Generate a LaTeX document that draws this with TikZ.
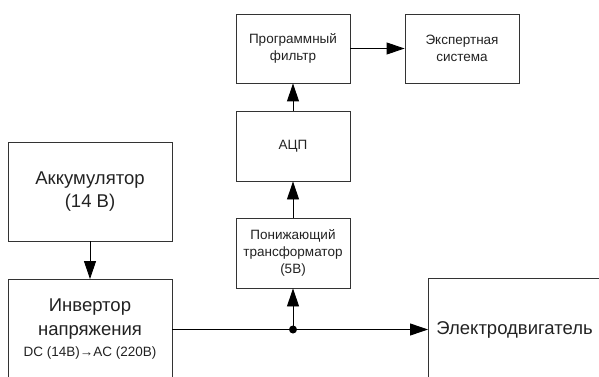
\documentclass[tikz,border=0pt]{standalone}
\usepackage{fontspec}
\setmainfont{Liberation Sans}
\usetikzlibrary{arrows.meta}
\definecolor{ink}{HTML}{222222}
\definecolor{edge}{HTML}{333333}
\tikzset{
  blk/.style={draw=edge, line width=0.9pt, rectangle, inner sep=0pt, align=center, text=ink},
  small/.style={font=\fontsize{13.5}{17}\selectfont},
  big/.style={font=\fontsize{18.5}{23.5}\selectfont},
  conn/.style={draw=black, line width=0.9pt, -{Triangle[length=18pt,width=12pt]}},
  wire/.style={draw=black, line width=0.9pt}
}
\begin{document}
\begin{tikzpicture}[x=1pt,y=-1pt]
\useasboundingbox (0,0) rectangle (599,377);
\clip (0,0) rectangle (599,377);
\node[blk, small, minimum width=114pt, minimum height=69pt] (filt) at (293,48.5) {Программный\\фильтр};
\node[blk, small, minimum width=114pt, minimum height=69pt] (exp) at (462,48.5) {Экспертная\\система};
\node[blk, small, minimum width=114pt, minimum height=70pt] (adc) at (293,146) {АЦП};
\node[blk, small, minimum width=114pt, minimum height=70pt] (trans) at (293,253) {Понижающий\\трансформатор\\(5В)};
\node[blk, big, minimum width=164pt, minimum height=99pt] (acc) at (90,191.5) {Аккумулятор\\(14 В)};
\node[blk, big, minimum width=164pt, minimum height=100pt] (inv) at (90,329.5) {Инвертор\\напряжения\\[-2pt]{\fontsize{13.5}{17}\selectfont DC (14В)→AC (220В)}};
\node[blk, big, anchor=north west, minimum height=104pt, text width=190pt, align=left, inner xsep=8pt] (motor) at (428,278) {Электродвигатель};
\coordinate (junc) at (293,329.5);
\draw[conn] (acc.south) -- (inv.north);
\draw[wire] (inv.east |- junc) -- (junc);
\draw[conn] (junc) -- (motor.west |- junc);
\draw[conn] (junc) -- (trans.south);
\draw[conn] (trans.north) -- (adc.south);
\draw[conn] (adc.north) -- (filt.south);
\draw[conn] (filt.east) -- (exp.west);
\fill[black] (junc) circle (4pt);
\end{tikzpicture}
\end{document}
